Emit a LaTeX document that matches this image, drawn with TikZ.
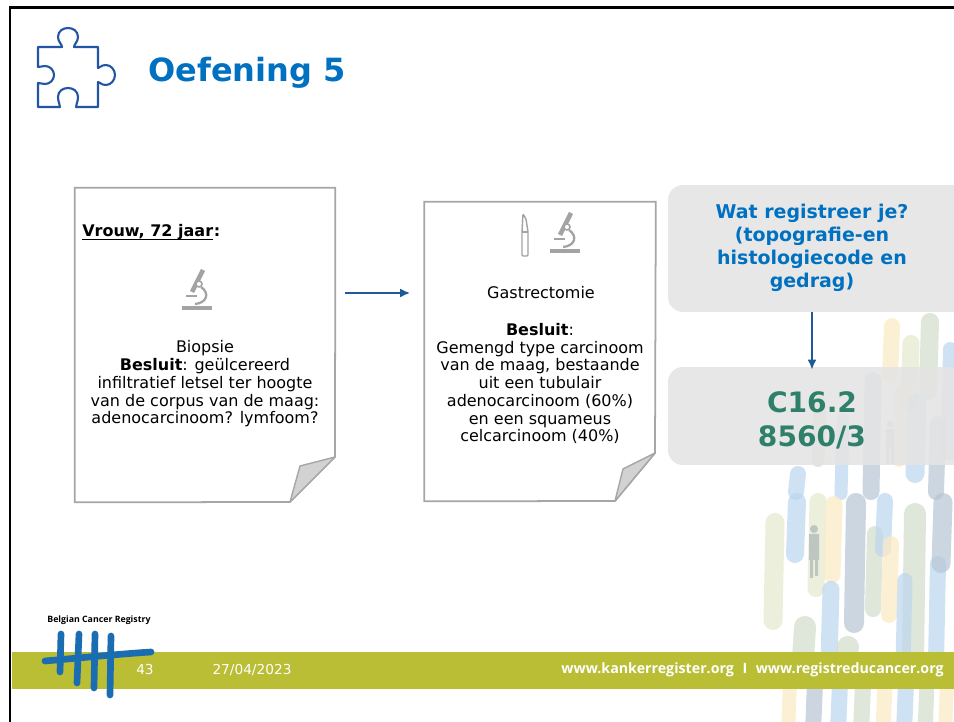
\documentclass[tikz,border=0pt]{standalone}
\usepackage{fontspec}
\setmainfont{DejaVu Sans}
\newfontfamily\footfont{Open Sans}
\usetikzlibrary{arrows.meta}

\definecolor{bcrblue}{HTML}{0070C0}
\definecolor{puzzleblue}{HTML}{2255A4}
\definecolor{arrowblue}{HTML}{1F5A96}
\definecolor{codegreen}{HTML}{2E806A}
\definecolor{footolive}{HTML}{B9BE34}
\definecolor{paperline}{HTML}{A6A6A6}
\definecolor{foldgray}{HTML}{D2D2D2}
\definecolor{boxgray}{HTML}{E4E4E4}
\definecolor{icongray}{HTML}{A3A3A3}
\definecolor{logoblue}{HTML}{1A6DB0}
\definecolor{brushblue}{HTML}{BCD6EE}
\definecolor{brushgreen}{HTML}{E3E9CD}
\definecolor{brushyellow}{HTML}{FCEBC2}
\definecolor{brushgrey}{HTML}{B7C6D3}
\definecolor{brushsage}{HTML}{D2DCCB}

\begin{document}
\begin{tikzpicture}[x=0.02cm,y=-0.02cm,
  every node/.style={font=\fontsize{9.1}{10.1}\selectfont, inner sep=0pt},
  paper/.style={draw=paperline, line width=1pt, fill=white},
  flap/.style={draw=paperline, line width=0.8pt, fill=foldgray, line join=round},
  greybox/.style={fill=boxgray, fill opacity=0.88, rounded corners=0.3cm},
  flow/.style={draw=arrowblue, line width=1.1pt, -{Latex[length=2mm,width=1.8mm]}},
  brush/.style={line cap=round, opacity=0.7},
  microscope/.pic={
    \draw[icongray, line width=1.8pt] (0,41) -- (30,41);
    \draw[icongray, line width=2.6pt] (10,25) -- (21,3);
    \draw[icongray, line width=1.3pt] (19,20) .. controls (28,26) and (25,36) .. (13,37);
    \draw[icongray, line width=1.3pt] (4,29) -- (15,29);
    \filldraw[icongray, fill=white, line width=0.9pt] (17,17) circle (3);
  }]
\useasboundingbox (0,0) rectangle (954,722);
\clip (0,0) rectangle (954,722);
\fill[white] (0,0) rectangle (954,722);

% painted strokes in the background
\foreach \x/\ya/\yb/\w/\c in {
  892/318/383/16/brushyellow, 911/335/413/17/brushgreen, 930/313/400/18/brushsage,
  950/342/460/14/brushblue, 873/372/500/17/brushgrey, 917/393/483/19/brushblue,
  938/416/500/16/brushgrey, 901/386/467/12/brushyellow, 843/413/500/13/brushblue,
  820/396/467/13/brushsage, 798/466/500/16/brushblue, 775/513/630/19/brushgreen,
  797/493/563/18/brushblue, 818/493/597/17/brushgreen, 834/496/583/17/brushyellow,
  831/581/670/17/brushblue, 856/493/633/20/brushgrey, 875/526/617/16/brushsage,
  885/493/557/16/brushblue, 891/536/623/16/brushyellow, 915/503/670/22/brushsage,
  905/573/670/15/brushblue, 938/556/670/16/brushblue, 943/493/573/19/brushgrey,
  805/616/670/22/brushsage, 848/636/670/22/brushsage,
  790/675/740/14/brushyellow, 815/675/740/16/brushgrey, 840/675/740/16/brushblue,
  863/675/740/16/brushsage, 885/675/740/15/brushyellow, 906/675/740/16/brushblue,
  927/675/740/15/brushsage, 947/675/740/14/brushyellow}
  \draw[brush, line width=0.57*\w pt, \c] (\x,\ya+\w/2) -- (\x-2,\yb-\w/2);
% little walking figures
\fill[brushgrey!80!black, opacity=0.5] (814,529) circle (4)
  (809,534) rectangle (819,560) (810,560) rectangle (813,578) (815,560) rectangle (818,576);
\fill[brushgrey!80!black, opacity=0.45] (890,424) circle (3.5)
  (886,429) rectangle (894,448) (886,448) rectangle (889,464) (891,448) rectangle (894,464);

% title
\draw[puzzleblue, line width=1.2pt, line join=round]
  (38,47) -- (62,47) .. controls (62,44) and (58,42) .. (58,37)
  .. controls (58,31) and (63,28) .. (68,28) .. controls (73,28) and (78,31) .. (78,37)
  .. controls (78,42) and (74,44) .. (74,47) -- (98,47) -- (98,68)
  .. controls (100,68) and (101,65) .. (106,65) .. controls (111,65) and (115,70) .. (115,75)
  .. controls (115,80) and (111,85) .. (106,85) .. controls (101,85) and (100,82) .. (98,82)
  -- (98,107) -- (76,107) .. controls (76,104) and (78,102) .. (78,97)
  .. controls (78,91) and (73,88) .. (68,88) .. controls (63,88) and (58,91) .. (58,97)
  .. controls (58,102) and (60,104) .. (60,107) -- (38,107) -- (38,83)
  .. controls (41,83) and (42,84) .. (45,84) .. controls (50,84) and (54,80) .. (54,75)
  .. controls (54,70) and (50,66) .. (45,66) .. controls (42,66) and (41,67) .. (38,67) -- cycle;
\node[anchor=west, text=bcrblue, font=\fontsize{18.2}{21}\bfseries] (title) at (148,73) {Oefening 5};

% first report: biopsy
\node[minimum width=5.2cm, minimum height=6.28cm] (biopsy) at (205,345) {};
\draw[paper] (biopsy.north west) -- (biopsy.north east) -- (335,457) -- (290,502)
  -- (biopsy.south west) -- cycle;
\draw[flap] (335,457) -- (300,466) -- (290,502) -- cycle;
\node[anchor=base west, font=\fontsize{9.1}{10.1}\bfseries] (patient) at (82,237) {Vrouw, 72 jaar};
\node[anchor=base west, font=\fontsize{9.1}{10.1}\bfseries] (colon) at (patient.base east) {:};
\draw[line width=0.6pt] ([yshift=-1.6pt]patient.base west) -- ([yshift=-1.6pt]patient.base east);
\pic at (182,267) {microscope};
\node[align=center] (biopsytext) at (205,384)
  {Biopsie\\ \textbf{Besluit}: geülcereerd\\ infiltratief letsel ter hoogte\\
   van de corpus van de maag:\\ adenocarcinoom? lymfoom?};

% second report: resection
\node[minimum width=4.62cm, minimum height=5.98cm] (resection) at (540,351.5) {};
\draw[paper] (resection.north west) -- (resection.north east) -- (655,453) -- (615,501)
  -- (resection.south west) -- cycle;
\draw[flap] (655,453) -- (623,469) -- (615,501) -- cycle;
\draw[icongray, line width=0.8pt, rounded corners=0.6pt]
  (522,256) -- (522,232) -- (523,214) -- (526,219) -- (528,232) -- (528,256) -- cycle;
\draw[icongray, line width=0.8pt] (522,232) -- (528,232);
\pic at (550,210) {microscope};
\node (gastrec) at (541,293) {Gastrectomie};
\node[align=center, anchor=north] (resectiontext) at (540,323)
  {\textbf{Besluit}:\\ Gemengd type carcinoom\\ van de maag, bestaande\\ uit een tubulair\\
   adenocarcinoom (60\%)\\ en een squameus\\ celcarcinoom (40\%)};

% question and answer
\node[greybox, minimum width=6.12cm, minimum height=2.54cm] (question) at (821,248.5) {};
\node[align=center, text=bcrblue, font=\fontsize{10.8}{13.1}\bfseries] (qtext) at (812,248)
  {Wat registreer je?\\ (topografie-en\\ histologiecode en\\ gedrag)};
\node[greybox, minimum width=6.12cm, minimum height=1.96cm] (codes) at (821,416) {};
\node[align=center, text=codegreen, font=\fontsize{16}{19.3}\bfseries] (ctext) at (812,420)
  {C16.2\\ 8560/3};

\draw[flow] (biopsy.east |- gastrec.west) ++(10,0) -- ([xshift=-0.28cm]resection.west |- gastrec.west);
\draw[flow] (qtext |- question.south) -- ([yshift=-0.06cm]qtext |- codes.north);

% footer band
\fill[footolive] (12,652) rectangle (954,689);
\node[text=white, font=\fontsize{7.8}{9}\selectfont] (page) at (145,670) {43};
\node[text=white, font=\fontsize{7.8}{9}\selectfont] (date) at (252,670) {27/04/2023};
\node[anchor=east, text=white, font=\footfont\fontsize{8.1}{10}\bfseries] (web) at (944,670)
  {www.kankerregister.org\hspace{0.6em}I\hspace{0.6em}www.registreducancer.org};

% registry logo
\node[anchor=west, font=\footfont\fontsize{5}{6}\bfseries] (registry) at (47,620) {Belgian Cancer Registry};
\begin{scope}[logoblue, line width=3.8pt, line cap=round]
  \draw (61,634) -- (60,672);
  \draw (79,634) -- (77,683);
  \draw (95,634) -- (94,688);
  \draw (111,636) -- (110,695);
  \draw (45,661) .. controls (90,657) and (120,654) .. (151,652);
\end{scope}

% slide frame
\draw[line width=1.7pt] (10,722) -- (10,8) -- (954,8);
\end{tikzpicture}
\end{document}
